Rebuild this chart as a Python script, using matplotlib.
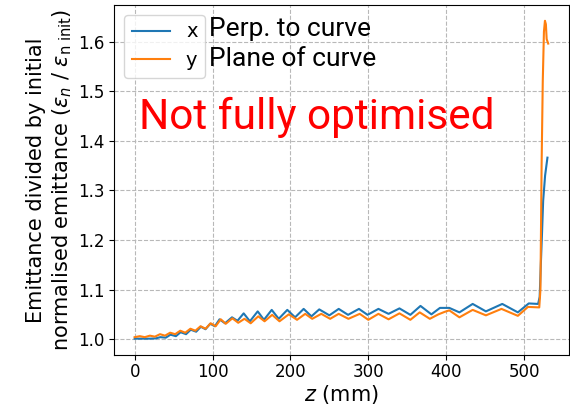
import matplotlib
matplotlib.use('Agg')
from matplotlib import pyplot as plt

# emittance growth along the beamline
z_x = [0, 10, 20, 27, 33, 40, 46, 53, 59, 66, 72, 79, 85, 91, 97, 103, 109, 116,
       125, 132, 140, 148, 158, 166, 176, 185, 196, 206, 217, 227, 237, 250, 262,
       274, 288, 299, 313, 326, 340, 354, 367, 381, 392, 404, 417, 434, 451, 472,
       492, 506, 518, 520, 521.5, 523, 524.5, 527, 530]
eps_x = [1.001, 1.001, 1.001, 1.0015, 1.004, 1.003, 1.009, 1.006, 1.014, 1.010,
         1.019, 1.015, 1.025, 1.020, 1.031, 1.026, 1.040, 1.032, 1.044, 1.037,
         1.052, 1.036, 1.056, 1.039, 1.059, 1.041, 1.059, 1.044, 1.061, 1.046,
         1.060, 1.048, 1.061, 1.049, 1.061, 1.049, 1.061, 1.051, 1.062, 1.049,
         1.067, 1.050, 1.063, 1.063, 1.054, 1.071, 1.056, 1.071, 1.054, 1.072,
         1.071, 1.085, 1.15, 1.212, 1.279, 1.33, 1.366]

z_y = [0, 6.6, 13, 19.6, 26, 32.6, 39, 45.6, 52, 58.6, 65, 71.6, 78, 84.6, 91,
       97.6, 104, 110.6, 117, 125.5, 133, 141, 149, 158.7, 166.8, 176.6, 186,
       197.9, 208.5, 219, 228, 239.6, 251, 262, 274.5, 289, 300, 313, 326, 340,
       354, 366, 379, 390, 398, 404, 417, 434, 451, 471, 492, 505, 519.5, 521,
       522.5, 524, 525.5, 526.8, 528, 529, 531]
eps_y = [1.004, 1.006, 1.004, 1.007, 1.005, 1.010, 1.007, 1.013, 1.010, 1.017,
         1.013, 1.021, 1.017, 1.026, 1.021, 1.032, 1.026, 1.040, 1.031, 1.042,
         1.033, 1.041, 1.032, 1.046, 1.036, 1.049, 1.036, 1.050, 1.039, 1.051,
         1.041, 1.051, 1.041, 1.051, 1.041, 1.051, 1.039, 1.051, 1.040, 1.052,
         1.039, 1.054, 1.041, 1.050, 1.055, 1.058, 1.044, 1.059, 1.048, 1.061,
         1.047, 1.065, 1.064, 1.10, 1.35, 1.52, 1.62, 1.642, 1.635, 1.605, 1.596]

labels = ['x', 'y']
descriptions = ['Perp. to curve', 'Plane of curve']

fig = plt.figure(figsize=(5.7, 4.09), dpi=100)
ax = fig.add_axes([0.2, 0.132, 0.798, 0.856])

ax.plot(z_x, eps_x, color='C0', linewidth=1.5, label=labels[0])
ax.plot(z_y, eps_y, color='C1', linewidth=1.5, label=labels[1])

ax.set_xlim(-26.5, 557.5)
ax.set_ylim(0.968, 1.674)
ax.set_xticks([0, 100, 200, 300, 400, 500])
ax.set_yticks([1.0, 1.1, 1.2, 1.3, 1.4, 1.5, 1.6])
ax.tick_params(labelsize=12)
ax.tick_params(axis='x', pad=2.5)
ax.grid(True, linestyle='--', color='0.72', linewidth=0.8)

ax.set_xlabel('$z$ (mm)', fontsize=15, labelpad=1)
ax.set_ylabel('Emittance divided by initial\nnormalised emittance '
              r'($\epsilon_n$ / $\epsilon_{\mathrm{n\ init}}$)', fontsize=15,
              labelpad=3)

ax.legend(loc='upper left', fontsize=14)
ax.text(96, 1.612, descriptions[0], family='Roboto', fontsize=19, va='baseline')
ax.text(96, 1.550, descriptions[1], family='Roboto', fontsize=19, va='baseline')
ax.text(5.5, 1.424, 'Not fully optimised', family='Roboto', fontsize=30.5,
        color='red', va='baseline')

fig.savefig('out.png', dpi=100)
